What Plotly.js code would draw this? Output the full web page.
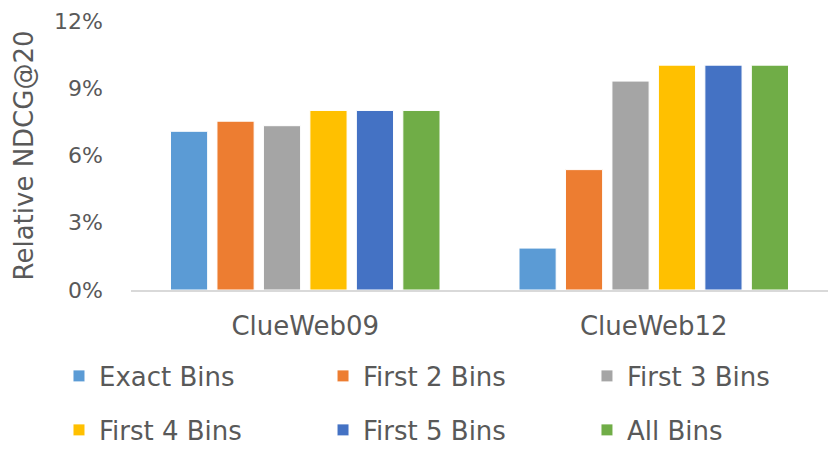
<!DOCTYPE html>
<html>
<head>
<meta charset="utf-8">
<script src="https://cdn.plot.ly/plotly-3.0.1.min.js"></script>
<style>html,body{margin:0;padding:0;background:#fff;}#chart{width:830px;height:455px;}</style>
</head>
<body>
<div id="chart"></div>
<script>
const categories = ["ClueWeb09", "ClueWeb12"];
const seriesNames = ["Exact Bins", "First 2 Bins", "First 3 Bins", "First 4 Bins", "First 5 Bins", "All Bins"];
const exactBins = [0.0708, 0.0187];
const first2Bins = [0.0753, 0.0537];
const first3Bins = [0.0733, 0.0932];
const first4Bins = [0.0801, 0.1003];
const first5Bins = [0.0801, 0.1003];
const allBins = [0.0801, 0.1003];
const seriesValues = [exactBins, first2Bins, first3Bins, first4Bins, first5Bins, allBins];
const colors = ["#5B9BD5", "#ED7D31", "#A5A5A5", "#FFC000", "#4472C4", "#70AD47"];

const FONT = "'DejaVu Sans', 'Open Sans', sans-serif";
const TEXT = "#595959";
const legendIds = ["legend", "legend2", "legend3", "legend4", "legend5", "legend6"];

const traces = seriesNames.map((name, i) => ({
  type: "bar",
  name: name,
  x: categories,
  y: seriesValues[i],
  marker: {color: colors[i], line: {color: "#ffffff", width: 1}},
  legend: legendIds[i],
  hoverinfo: "none"
}));

// legend grid: 3 columns x 2 rows (plot-area-relative anchor points)
const legendCols = [-0.1033, 0.2755, 0.6542];
const legendRows = [-0.3197, -0.5204];

const layout = {
  width: 830,
  height: 455,
  margin: {l: 131, r: 2, t: 21, b: 165, autoexpand: false},
  paper_bgcolor: "#ffffff",
  plot_bgcolor: "#ffffff",
  barmode: "group",
  bargap: 0.2,
  bargroupgap: 0.2,
  showlegend: true,
  xaxis: {
    showline: true,
    linecolor: "#d9d9d9",
    linewidth: 1.5,
    ticks: "",
    showgrid: false,
    ticklabelstandoff: 12,
    tickfont: {family: FONT, size: 26, color: TEXT},
    automargin: false,
    fixedrange: true
  },
  yaxis: {
    range: [0, 0.12],
    dtick: 0.03,
    tick0: 0,
    tickformat: ".0%",
    showgrid: false,
    zeroline: false,
    showline: false,
    ticks: "",
    ticklabelstandoff: 27,
    tickfont: {family: FONT, size: 22, color: TEXT},
    title: {text: "Relative NDCG@20", font: {family: FONT, size: 26, color: TEXT}, standoff: 12},
    automargin: false,
    fixedrange: true
  }
};

legendIds.forEach((id, i) => {
  layout[id] = {
    orientation: "v",
    x: legendCols[i % 3],
    y: legendRows[Math.floor(i / 3)],
    xanchor: "left",
    yanchor: "middle",
    font: {family: FONT, size: 26, color: TEXT},
    bgcolor: "rgba(0,0,0,0)",
    borderwidth: 0,
    itemclick: false,
    itemdoubleclick: false
  };
});

Plotly.newPlot("chart", traces, layout, {displayModeBar: false, staticPlot: true});
</script>
</body>
</html>
